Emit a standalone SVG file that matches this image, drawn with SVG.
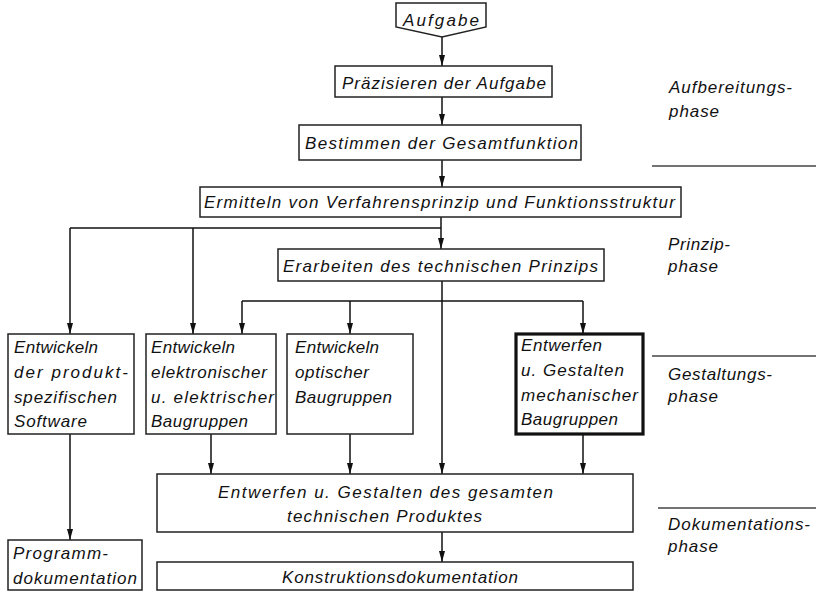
<svg xmlns="http://www.w3.org/2000/svg" width="816" height="592" viewBox="0 0 816 592">
<style>
text{font-family:"Liberation Sans",Arial,sans-serif;font-style:italic;font-size:17px;fill:#111}
.box{fill:#fff;stroke:#222;stroke-width:1.5}
.thick{fill:#fff;stroke:#111;stroke-width:3.2}
.con{fill:none;stroke:#111;stroke-width:1.5}
.arr{fill:none;stroke:#111;stroke-width:1.5;marker-end:url(#ah)}
.ph{stroke:#444;stroke-width:1.5}
</style>
<defs>
<marker id="ah" markerWidth="12" markerHeight="8" refX="11" refY="4" orient="auto" markerUnits="userSpaceOnUse">
<path d="M0,1 L11,4 L0,7 Z" fill="#111"/>
</marker>
</defs>
<rect width="816" height="592" fill="#fff"/>

<g id="connectors">
<line class="arr" x1="442" y1="37" x2="442" y2="66"/>
<line class="arr" x1="442" y1="97" x2="442" y2="125"/>
<line class="arr" x1="442" y1="160" x2="442" y2="187"/>
<line class="arr" x1="441" y1="217" x2="441" y2="249"/>
<polyline class="con" points="441,228 70,228"/>
<line class="arr" x1="70" y1="228" x2="70" y2="334"/>
<line class="arr" x1="193" y1="228" x2="193" y2="334"/>
<line class="arr" x1="442" y1="281" x2="442" y2="474"/>
<polyline class="con" points="242,301 583,301"/>
<line class="arr" x1="242" y1="301" x2="242" y2="334"/>
<line class="arr" x1="350" y1="301" x2="350" y2="334"/>
<line class="arr" x1="583" y1="301" x2="583" y2="334"/>
<line class="arr" x1="70" y1="434" x2="70" y2="540"/>
<line class="arr" x1="211" y1="434" x2="211" y2="474"/>
<line class="arr" x1="350" y1="434" x2="350" y2="474"/>
<line class="arr" x1="583" y1="434" x2="583" y2="474"/>
<line class="arr" x1="442" y1="532" x2="442" y2="562"/>
</g>

<g id="aufgabe">
<path class="box" d="M396,3 H486 V27 L442,37 L396,27 Z"/>
<text x="403" y="26" textLength="76" lengthAdjust="spacing">Aufgabe</text>
</g>
<g id="praezisieren">
<rect class="box" x="335" y="66" width="217" height="31"/>
<text x="342" y="89" textLength="204" lengthAdjust="spacing">Präzisieren der Aufgabe</text>
</g>
<g id="bestimmen">
<rect class="box" x="299" y="125" width="282" height="35"/>
<text x="305" y="149" textLength="273" lengthAdjust="spacing">Bestimmen der Gesamtfunktion</text>
</g>
<g id="ermitteln">
<rect class="box" x="200" y="187" width="481" height="30"/>
<text x="204" y="208" textLength="471" lengthAdjust="spacing">Ermitteln von Verfahrensprinzip und Funktionsstruktur</text>
</g>
<g id="erarbeiten">
<rect class="box" x="278" y="249" width="326" height="32"/>
<text x="283" y="272" textLength="315" lengthAdjust="spacing">Erarbeiten des technischen Prinzips</text>
</g>
<g id="software">
<rect class="box" x="8" y="334" width="126" height="100"/>
<text x="14" y="353" textLength="84" lengthAdjust="spacing">Entwickeln</text>
<text x="14" y="378" textLength="114" lengthAdjust="spacing">der produkt-</text>
<text x="14" y="403" textLength="103" lengthAdjust="spacing">spezifischen</text>
<text x="14" y="427" textLength="73" lengthAdjust="spacing">Software</text>
</g>
<g id="elektronisch">
<rect class="box" x="146" y="334" width="130" height="100"/>
<text x="151" y="353" textLength="84" lengthAdjust="spacing">Entwickeln</text>
<text x="151" y="378" textLength="116" lengthAdjust="spacing">elektronischer</text>
<text x="151" y="403" textLength="123" lengthAdjust="spacing">u. elektrischer</text>
<text x="151" y="427" textLength="97" lengthAdjust="spacing">Baugruppen</text>
</g>
<g id="optisch">
<rect class="box" x="287" y="334" width="126" height="100"/>
<text x="295" y="353" textLength="84" lengthAdjust="spacing">Entwickeln</text>
<text x="295" y="378" textLength="74" lengthAdjust="spacing">optischer</text>
<text x="295" y="403" textLength="97" lengthAdjust="spacing">Baugruppen</text>
</g>
<g id="mechanisch">
<rect class="thick" x="516" y="334" width="127" height="100"/>
<text x="521" y="351" textLength="81" lengthAdjust="spacing">Entwerfen</text>
<text x="521" y="376" textLength="103" lengthAdjust="spacing">u. Gestalten</text>
<text x="521" y="401" textLength="117" lengthAdjust="spacing">mechanischer</text>
<text x="521" y="425" textLength="97" lengthAdjust="spacing">Baugruppen</text>
</g>
<g id="gesamt">
<rect class="box" x="157" y="474" width="476" height="58"/>
<text x="218" y="498" textLength="335" lengthAdjust="spacing">Entwerfen u. Gestalten des gesamten</text>
<text x="287" y="522" textLength="195" lengthAdjust="spacing">technischen Produktes</text>
</g>
<g id="programm">
<rect class="box" x="8" y="540" width="134" height="50"/>
<text x="13" y="559" textLength="95" lengthAdjust="spacing">Programm-</text>
<text x="13" y="584" textLength="124" lengthAdjust="spacing">dokumentation</text>
</g>
<g id="konstruktion">
<rect class="box" x="157" y="562" width="476" height="28"/>
<text x="282" y="583" textLength="236" lengthAdjust="spacing">Konstruktionsdokumentation</text>
</g>

<g id="phases">
<text x="669" y="93" textLength="123" lengthAdjust="spacing">Aufbereitungs-</text>
<text x="669" y="117" textLength="50" lengthAdjust="spacing">phase</text>
<line class="ph" x1="652" y1="166" x2="816" y2="166"/>
<text x="668" y="250" textLength="62" lengthAdjust="spacing">Prinzip-</text>
<text x="668" y="272" textLength="50" lengthAdjust="spacing">phase</text>
<line class="ph" x1="652" y1="356" x2="816" y2="356"/>
<text x="668" y="380" textLength="104" lengthAdjust="spacing">Gestaltungs-</text>
<text x="668" y="402" textLength="50" lengthAdjust="spacing">phase</text>
<line class="ph" x1="658" y1="508" x2="816" y2="508"/>
<text x="668" y="530" textLength="142" lengthAdjust="spacing">Dokumentations-</text>
<text x="668" y="552" textLength="50" lengthAdjust="spacing">phase</text>
</g>
</svg>
